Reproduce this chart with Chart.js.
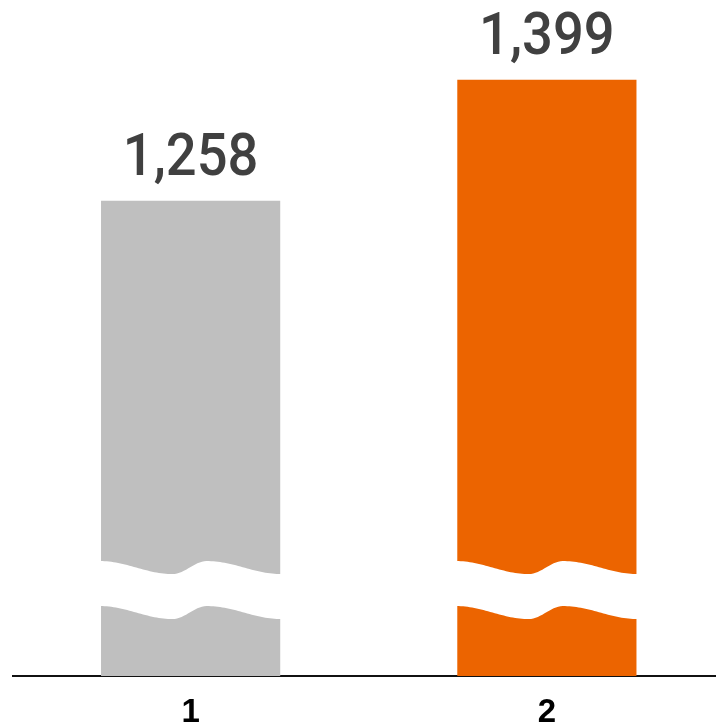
<!DOCTYPE html>
<html>
<head>
<meta charset="utf-8">
<script src="https://cdn.jsdelivr.net/npm/chart.js@4/dist/chart.umd.min.js"></script>
<style>
  html, body { margin: 0; padding: 0; background: #fff; overflow: hidden; }
  .chart-wrapper { width: 725px; height: 725px; }
</style>
</head>
<body>
<div class="chart-wrapper">
  <canvas id="myChart" width="725" height="725"></canvas>
</div>
<script>
const labels = ["1", "2"];
const values = [1258, 1399];
const barColors = ["#bfbfbf", "#ec6400"];

// axis is cut: the scale starts well above zero, the wavy band marks the gap
const yMin = 704;
const yMax = 1492;
const breakAt = 838;

// white wave band drawn across each bar
const axisBreak = {
  id: "axisBreak",
  afterDatasetsDraw(chart) {
    const ctx = chart.ctx;
    const y0 = chart.scales.y.getPixelForValue(breakAt);
    const band = 45;
    const amp = 13;
    // crest / trough stops along the bar width, eased with a cosine
    const stops = [
      [0, 0],
      [0.4, amp],
      [0.59, 0],
      [1, amp],
    ];
    const waveY = (t) => {
      for (let i = 1; i < stops.length; i++) {
        const [ax, ay] = stops[i - 1];
        const [bx, by] = stops[i];
        if (t <= bx) {
          const s = (t - ax) / (bx - ax);
          return ay + ((by - ay) * (1 - Math.cos(Math.PI * s))) / 2;
        }
      }
      return stops[stops.length - 1][1];
    };
    chart.getDatasetMeta(0).data.forEach((bar) => {
      const left = bar.x - bar.width / 2 - 1;
      const w = bar.width + 2;
      const n = 80;
      ctx.save();
      ctx.fillStyle = "#ffffff";
      ctx.beginPath();
      for (let i = 0; i <= n; i++) {
        const t = i / n;
        const y = y0 + waveY(t);
        if (i === 0) ctx.moveTo(left + t * w, y);
        else ctx.lineTo(left + t * w, y);
      }
      for (let i = n; i >= 0; i--) {
        const t = i / n;
        ctx.lineTo(left + t * w, y0 + band + waveY(t));
      }
      ctx.closePath();
      ctx.fill();
      ctx.restore();
    });
  },
};

// value labels above the bars, slightly condensed
const valueLabels = {
  id: "valueLabels",
  afterDatasetsDraw(chart) {
    const ctx = chart.ctx;
    chart.getDatasetMeta(0).data.forEach((bar, i) => {
      ctx.save();
      ctx.translate(bar.x, bar.y - 26);
      ctx.scale(0.92, 1);
      ctx.fillStyle = "#404040";
      ctx.font = "500 59px Roboto, 'Liberation Sans', sans-serif";
      ctx.textAlign = "center";
      ctx.textBaseline = "alphabetic";
      ctx.fillText(values[i].toLocaleString("en-US"), 0, 0);
      ctx.restore();
    });
  },
};

const data = {
  labels: labels,
  datasets: [
    {
      data: values,
      backgroundColor: barColors,
      borderWidth: 0,
      barPercentage: 1,
      categoryPercentage: 0.503,
    },
  ],
};

const config = {
  type: "bar",
  data,
  options: {
    responsive: false,
    animation: false,
    layout: {
      padding: { left: 12.5, right: 0, top: 0, bottom: 0 },
    },
    plugins: {
      legend: { display: false },
      tooltip: { enabled: false },
    },
    scales: {
      x: {
        grid: { display: false, drawTicks: false },
        border: { display: true, color: "#111111", width: 2 },
        ticks: {
          color: "#000000",
          padding: 17,
          font: {
            family: "'Liberation Sans Narrow', 'Liberation Sans', Arial, sans-serif",
            size: 33,
            weight: "bold",
          },
        },
        afterFit(scale) {
          scale.height = 49;
        },
      },
      y: {
        display: false,
        min: yMin,
        max: yMax,
      },
    },
  },
  plugins: [axisBreak, valueLabels],
};

new Chart(document.getElementById("myChart"), config);
</script>
</body>
</html>
